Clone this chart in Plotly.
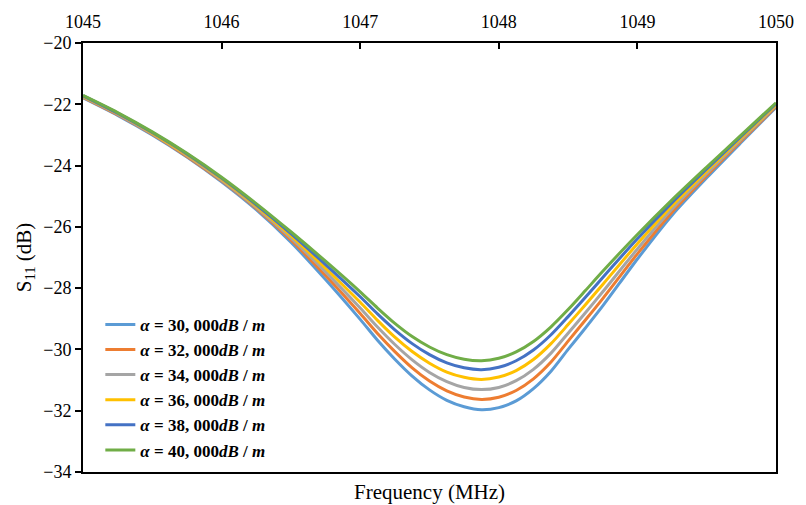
import plotly.graph_objects as go

# Frequency sweep (MHz); finer spacing around the resonance dip
freq = [1045.00, 1045.25, 1045.50, 1045.75, 1046.00, 1046.25, 1046.50, 1046.75,
        1047.00, 1047.125, 1047.25, 1047.375, 1047.50, 1047.625, 1047.75, 1047.875,
        1048.00, 1048.125, 1048.25, 1048.375, 1048.50, 1048.625, 1048.75,
        1049.00, 1049.25, 1049.50, 1049.75, 1050.00]

# S11 (dB) for each attenuation constant
s11_30k = [-21.79, -22.36, -23.00, -23.72, -24.53, -25.44, -26.50, -27.72,
           -29.02, -29.70, -30.32, -30.87, -31.32, -31.66, -31.87, -31.97,
           -31.90, -31.68, -31.28, -30.72, -30.00, -29.30, -28.58,
           -27.05, -25.62, -24.40, -23.24, -22.10]
s11_32k = [-21.77, -22.34, -22.98, -23.70, -24.50, -25.40, -26.43, -27.59,
           -28.83, -29.48, -30.07, -30.60, -31.03, -31.35, -31.55, -31.63,
           -31.56, -31.34, -30.96, -30.42, -29.73, -29.04, -28.34,
           -26.88, -25.52, -24.33, -23.19, -22.07]
s11_34k = [-21.76, -22.32, -22.96, -23.67, -24.47, -25.36, -26.36, -27.47,
           -28.65, -29.27, -29.84, -30.34, -30.75, -31.05, -31.24, -31.31,
           -31.24, -31.02, -30.65, -30.13, -29.47, -28.80, -28.12,
           -26.72, -25.42, -24.26, -23.14, -22.04]
s11_36k = [-21.74, -22.30, -22.94, -23.65, -24.44, -25.32, -26.29, -27.35,
           -28.46, -29.05, -29.60, -30.07, -30.45, -30.74, -30.91, -30.98,
           -30.90, -30.69, -30.33, -29.82, -29.19, -28.54, -27.88,
           -26.55, -25.31, -24.18, -23.09, -22.01]
s11_38k = [-21.72, -22.29, -22.92, -23.62, -24.41, -25.28, -26.22, -27.23,
           -28.28, -28.84, -29.36, -29.81, -30.17, -30.44, -30.60, -30.66,
           -30.58, -30.37, -30.02, -29.53, -28.93, -28.30, -27.65,
           -26.39, -25.21, -24.11, -23.04, -21.98]
s11_40k = [-21.71, -22.27, -22.90, -23.60, -24.38, -25.24, -26.16, -27.12,
           -28.12, -28.65, -29.15, -29.58, -29.92, -30.17, -30.32, -30.37,
           -30.29, -30.08, -29.74, -29.27, -28.70, -28.08, -27.45,
           -26.25, -25.12, -24.05, -23.00, -21.95]

alpha_labels = ["30, 000", "32, 000", "34, 000", "36, 000", "38, 000", "40, 000"]
series = [s11_30k, s11_32k, s11_34k, s11_36k, s11_38k, s11_40k]
colors = ["#5B9BD5", "#ED7D31", "#A5A5A5", "#FFC000", "#4472C4", "#70AD47"]

x_ticks = [1045, 1046, 1047, 1048, 1049, 1050]
y_ticks = [-34, -32, -30, -28, -26, -24, -22, -20]

FONT = "Liberation Serif"

fig = go.Figure()
for lab, ys, col in zip(alpha_labels, series, colors):
    fig.add_trace(go.Scatter(
        x=freq, y=ys, mode="lines",
        line=dict(color=col, width=3, shape="spline", smoothing=0.8),
        name=f"<b><i>α</i> = {lab}<i>dB</i> / <i>m</i></b>",
    ))

fig.update_layout(
    width=806, height=505,
    margin=dict(l=83, r=19, t=41, b=33),
    paper_bgcolor="white", plot_bgcolor="white",
    font=dict(family=FONT, size=18, color="black"),
    showlegend=True,
    legend=dict(
        x=0.025, y=0.385, xanchor="left", yanchor="top",
        bgcolor="rgba(0,0,0,0)", borderwidth=0,
        font=dict(family=FONT, size=17, color="black"),
        tracegroupgap=0,
    ),
    xaxis=dict(
        range=[1045, 1050], side="top",
        tickvals=x_ticks, ticktext=[str(v) for v in x_ticks],
        ticks="inside", ticklen=6, tickwidth=2, tickcolor="black",
        ticklabelstandoff=6,
        showline=True, linecolor="black", linewidth=2, mirror=True,
        showgrid=False, zeroline=False,
        tickfont=dict(family=FONT, size=18),
    ),
    yaxis=dict(
        range=[-34, -20],
        tickvals=y_ticks,
        ticks="outside", ticklen=6, tickwidth=2, tickcolor="black",
        showline=True, linecolor="black", linewidth=2, mirror=True,
        showgrid=False, zeroline=False,
        tickfont=dict(family=FONT, size=18),
        title=dict(text="S<sub>11</sub> (dB)", font=dict(family=FONT, size=21), standoff=6),
    ),
    annotations=[dict(
        text="Frequency (MHz)", xref="paper", yref="paper",
        x=0.5, y=0, xanchor="center", yanchor="top", yshift=-6,
        showarrow=False, font=dict(family=FONT, size=21),
    )],
)

fig.write_html("out.html")
